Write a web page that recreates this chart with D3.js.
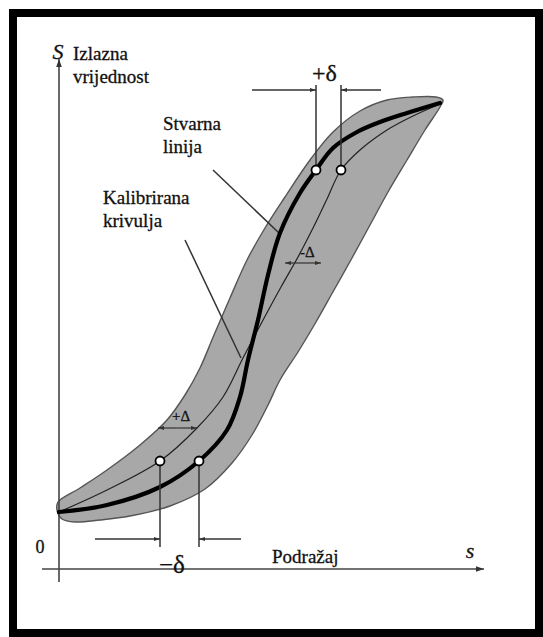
<!DOCTYPE html>
<html>
<head>
<meta charset="utf-8">
<script src="https://cdn.jsdelivr.net/npm/d3@7"></script>
<style>
  html, body { margin: 0; padding: 0; background: #fff; }
  svg { display: block; }
  text { font-family: "Liberation Serif", "DejaVu Serif", serif; fill: #111; stroke: #111; stroke-width: 0.3; }
</style>
</head>
<body>
<svg id="chart" width="543" height="637"></svg>
<script>
// ---- Data (stimulus units on x, output units on y) ----
const actualCurve = [ // "Stvarna linija" (thick)
  [0,57],[48,64],[101,82],[140,108],[168,139],[181,172],[189,209],[199,249],
  [209,294],[221,336],[241,376],[257,399],[274,421],[298,437],[321,447],[348,456],[381,466]
];
const calibrationCurve = [ // "Kalibrirana krivulja" (thin)
  [0,57],[48,79],[101,108],[138,141],[164,172],[184,211],[203,247],[222,282],
  [239,312],[254,341],[268,370],[282,399],[301,419],[328,439],[354,453],[381,465]
];
const bandUpper = [
  [-1,67],[21,81],[48,99],[81,124],[108,149],[126,174],[141,201],[155,234],[171,271],
  [188,309],[206,341],[226,372],[251,409],[274,437],[301,458],[328,469],[354,472],[377,472],[384,469]
];
const bandLower = [
  [381,462],[366,439],[348,409],[329,377],[311,344],[293,311],[275,279],[257,247],
  [239,217],[221,189],[209,164],[193,134],[173,106],[146,80],[111,63],[71,53],[41,49],[16,47],[3,50],[-2,59]
];
const lowerMarkers = [[101,108],[140,108]];   // -δ pair
const upperMarkers = [[257,399],[282,399]];   // +δ pair
const axisLabels = { y: "S", x: "s", origin: "0" };
const textLabels = [
  { lines: ["Izlazna", "vrijednost"], at: [14, 509] },
  { lines: ["Stvarna", "linija"], at: [104, 439] },
  { lines: ["Kalibrirana", "krivulja"], at: [44, 365] }
];

// ---- Scales ----
const x = d3.scaleLinear().domain([0, 420]).range([59, 479]);
const y = d3.scaleLinear().domain([0, 510]).range([569, 59]);

const svg = d3.select("#chart");

// frame
svg.append("rect").attr("x", 13).attr("y", 13).attr("width", 526).attr("height", 620)
  .attr("fill", "none").attr("stroke", "#000").attr("stroke-width", 8);

// markers
const defs = svg.append("defs");
function mk(id, size, color) {
  defs.append("marker").attr("id", id).attr("viewBox", "0 0 10 10")
    .attr("refX", 10).attr("refY", 5).attr("markerUnits", "userSpaceOnUse")
    .attr("markerWidth", size * 1.6).attr("markerHeight", size)
    .attr("orient", "auto")
    .append("path").attr("d", "M0,1.5 L10,5 L0,8.5 Z").attr("fill", color);
}
mk("arrAxis", 8, "#333");
mk("arrDim", 6, "#333");

// band
const band = bandUpper.concat(bandLower);
svg.append("path")
  .attr("d", d3.line().x(d => x(d[0])).y(d => y(d[1])).curve(d3.curveCatmullRomClosed.alpha(0.5))(band))
  .attr("fill", "#a8a8a8").attr("stroke", "#555").attr("stroke-width", 1.4);

// axes
svg.append("line").attr("x1", x(0)).attr("y1", y(-13)).attr("x2", x(0)).attr("y2", y(510))
  .attr("stroke", "#444").attr("stroke-width", 1.6).attr("marker-end", "url(#arrAxis)");
svg.append("line").attr("x1", x(-17)).attr("y1", y(0)).attr("x2", x(425)).attr("y2", y(0))
  .attr("stroke", "#444").attr("stroke-width", 1.6).attr("marker-end", "url(#arrAxis)");

const lineGen = d3.line().x(d => x(d[0])).y(d => y(d[1])).curve(d3.curveCatmullRom.alpha(0.5));

// calibration curve (thin)
svg.append("path").attr("d", lineGen(calibrationCurve))
  .attr("fill", "none").attr("stroke", "#222").attr("stroke-width", 1.2);

// pointer lines
svg.append("line").attr("x1", 213).attr("y1", 170).attr("x2", x(220)).attr("y2", y(336))
  .attr("stroke", "#333").attr("stroke-width", 1.5);
svg.append("line").attr("x1", 185).attr("y1", 240).attr("x2", x(182)).attr("y2", y(211))
  .attr("stroke", "#333").attr("stroke-width", 1.5);

// actual curve (thick)
svg.append("path").attr("d", lineGen(actualCurve))
  .attr("fill", "none").attr("stroke", "#000").attr("stroke-width", 4.2)
  .attr("stroke-linecap", "round").attr("stroke-linejoin", "round");

// δ dimension lines
function dim(pair, yEnd, yArrow, leftFrom, rightFrom) {
  pair.forEach(p => {
    svg.append("line").attr("x1", x(p[0])).attr("y1", y(p[1])).attr("x2", x(p[0])).attr("y2", y(yEnd))
      .attr("stroke", "#333").attr("stroke-width", 1.5);
  });
  svg.append("line").attr("x1", x(leftFrom)).attr("y1", y(yArrow)).attr("x2", x(pair[0][0])).attr("y2", y(yArrow))
    .attr("stroke", "#333").attr("stroke-width", 1.4).attr("marker-end", "url(#arrDim)");
  svg.append("line").attr("x1", x(rightFrom)).attr("y1", y(yArrow)).attr("x2", x(pair[1][0])).attr("y2", y(yArrow))
    .attr("stroke", "#333").attr("stroke-width", 1.4).attr("marker-end", "url(#arrDim)");
}
dim(lowerMarkers, 22, 30, 36, 182);
dim(upperMarkers, 484, 479, 193, 322);

// circles
svg.selectAll("circle.m").data(lowerMarkers.concat(upperMarkers)).join("circle")
  .attr("cx", d => x(d[0])).attr("cy", d => y(d[1])).attr("r", 4.5)
  .attr("fill", "#fff").attr("stroke", "#000").attr("stroke-width", 1.8);

// Δ arrows
function deltaArrow(x1, x2, yv) {
  const mid = (x1 + x2) / 2;
  svg.append("line").attr("x1", x(mid)).attr("y1", y(yv)).attr("x2", x(x1)).attr("y2", y(yv))
    .attr("stroke", "#333").attr("stroke-width", 1.2).attr("marker-end", "url(#arrDim)");
  svg.append("line").attr("x1", x(mid)).attr("y1", y(yv)).attr("x2", x(x2)).attr("y2", y(yv))
    .attr("stroke", "#333").attr("stroke-width", 1.2).attr("marker-end", "url(#arrDim)");
}
deltaArrow(99, 138, 141);
deltaArrow(226, 262, 306);

// texts
svg.append("text").attr("x", 58).attr("y", 59).attr("text-anchor", "middle")
  .attr("font-style", "italic").attr("font-size", 22).text(axisLabels.y);
svg.append("text").attr("x", 470).attr("y", 558).attr("text-anchor", "middle")
  .attr("font-style", "italic").attr("font-size", 22).text(axisLabels.x);
svg.append("text").attr("x", 40).attr("y", 553).attr("text-anchor", "middle")
  .attr("font-size", 18).text(axisLabels.origin);
svg.append("text").attr("x", 272).attr("y", 563).attr("font-size", 19).text("Podražaj");

textLabels.forEach(t => {
  const tx = svg.append("text").attr("x", x(t.at[0])).attr("y", y(t.at[1])).attr("font-size", 19);
  t.lines.forEach((l, i) => tx.append("tspan").attr("x", x(t.at[0])).attr("dy", i ? 23 : 0).text(l));
});

svg.append("text").attr("x", 159).attr("y", 573).attr("font-size", 25).text("−δ");
svg.append("text").attr("x", 312).attr("y", 81).attr("font-size", 24).text("+δ");
svg.append("text").attr("x", 172).attr("y", 421).attr("font-size", 15).text("+Δ");
svg.append("text").attr("x", 300).attr("y", 257).attr("font-size", 15).text("-Δ");
</script>
</body>
</html>
